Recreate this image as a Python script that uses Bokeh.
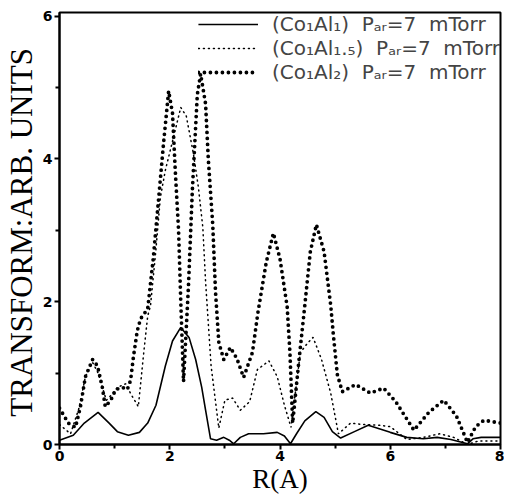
from bokeh.plotting import figure
from bokeh.models import Range1d, FixedTicker, Legend, LegendItem
from bokeh.embed import file_html
from bokeh.resources import INLINE

# (Co1Al1) solid
r1 = [0.0, 0.25, 0.45, 0.7, 0.9, 1.05, 1.25, 1.45, 1.6, 1.75, 1.92, 2.05, 2.2, 2.35, 2.47, 2.58,
      2.65, 2.74, 2.85, 2.98, 3.08, 3.16, 3.28, 3.43, 3.7, 3.95, 4.08, 4.19, 4.3, 4.45, 4.65, 4.8,
      4.95, 5.1, 5.35, 5.6, 5.8, 6.0, 6.3, 6.6, 6.85, 7.1, 7.4, 7.5, 7.65, 8.0]
y1 = [0.06, 0.13, 0.3, 0.45, 0.3, 0.18, 0.13, 0.17, 0.3, 0.55, 1.1, 1.45, 1.64, 1.5, 1.19, 0.8,
      0.48, 0.08, 0.06, 0.1, 0.06, 0.01, 0.1, 0.15, 0.15, 0.17, 0.12, 0.01, 0.15, 0.33, 0.46, 0.38,
      0.18, 0.09, 0.18, 0.27, 0.22, 0.17, 0.1, 0.08, 0.1, 0.07, 0.01, 0.08, 0.1, 0.1]

# (Co1Al1.5) fine dotted
r15 = [0.0, 0.2, 0.35, 0.47, 0.6, 0.7, 0.85, 0.95, 1.05, 1.2, 1.3, 1.43, 1.53, 1.6, 1.65, 1.74,
       1.83, 1.92, 2.07, 2.2, 2.3, 2.43, 2.52, 2.6, 2.65, 2.75, 2.89, 3.0, 3.14, 3.28, 3.45, 3.59,
       3.8, 3.95, 4.08, 4.2, 4.37, 4.5, 4.6, 4.75, 4.92, 5.06, 5.28, 5.5, 5.8, 6.0, 6.3, 6.6, 6.9,
       7.15, 7.4, 7.6, 8.0]
y15 = [0.28, 0.15, 0.5, 0.95, 1.15, 1.0, 0.62, 0.7, 0.8, 0.85, 0.7, 0.53, 1.3, 1.8, 1.94, 2.65,
       3.46, 3.84, 4.31, 4.72, 4.6, 4.07, 3.6, 3.04, 2.28, 1.1, 0.23, 0.62, 0.65, 0.48, 0.6, 1.05,
       1.17, 0.95, 0.55, 0.24, 1.29, 1.42, 1.5, 1.2, 0.72, 0.15, 0.3, 0.28, 0.27, 0.25, 0.07, 0.1,
       0.15, 0.1, 0.0, 0.05, 0.05]

# (Co1Al2) coarse dotted
r2 = [0.0, 0.16, 0.29, 0.38, 0.47, 0.6, 0.69, 0.78, 0.83, 0.93, 1.02, 1.14, 1.23, 1.29, 1.34, 1.41,
      1.47, 1.6, 1.7, 1.8, 1.89, 1.98, 2.05, 2.1, 2.16, 2.2, 2.25, 2.34, 2.41, 2.5, 2.56, 2.65, 2.7,
      2.78, 2.83, 2.89, 2.98, 3.1, 3.22, 3.34, 3.5, 3.6, 3.75, 3.88, 4.0, 4.13, 4.18, 4.23, 4.34,
      4.43, 4.55, 4.66, 4.8, 4.92, 4.97, 5.04, 5.13, 5.37, 5.64, 5.88, 6.1, 6.43, 6.7, 6.97, 7.2,
      7.4, 7.55, 7.7, 8.0]
y2 = [0.51, 0.3, 0.24, 0.53, 0.95, 1.19, 1.1, 0.79, 0.53, 0.62, 0.77, 0.8, 0.77, 0.9, 1.22, 1.59,
      1.76, 1.9, 2.6, 3.46, 4.24, 4.95, 4.64, 3.84, 3.0, 2.0, 0.88, 2.23, 3.56, 4.9, 5.19, 4.77, 3.99,
      3.08, 2.14, 1.43, 1.19, 1.36, 1.2, 0.94, 1.29, 1.85, 2.55, 2.96, 2.6, 1.93, 1.29, 0.3, 1.15,
      1.8, 2.7, 3.08, 2.7, 1.95, 1.52, 0.98, 0.74, 0.84, 0.72, 0.79, 0.6, 0.2, 0.45, 0.62, 0.4,
      0.03, 0.25, 0.34, 0.3]

labels = ["(Co\u2081Al\u2081)  P\u2090\u1d63=7  mTorr",
          "(Co\u2081Al\u2081.\u2085)  P\u2090\u1d63=7  mTorr",
          "(Co\u2081Al\u2082)  P\u2090\u1d63=7  mTorr"]
x_ticks = [0, 2, 4, 6, 8]
x_minor = [1, 3, 5, 7]
y_ticks = [0, 2, 4, 6]
y_minor = [1, 3, 5]

p = figure(width=504, height=500, output_backend="svg", toolbar_location=None,
           x_range=Range1d(0, 8), y_range=Range1d(0, 6.05),
           min_border_left=56, min_border_right=4, min_border_top=12, min_border_bottom=56)
p.background_fill_color = "white"
p.border_fill_color = "white"
p.grid.visible = False
p.outline_line_color = "black"
p.outline_line_width = 2

l1 = p.line(r1, y1, line_color="black", line_width=1.6)
l15 = p.line(r15, y15, line_color="black", line_width=1.5, line_dash="1 4", line_cap="round")
l2 = p.line(r2, y2, line_color="black", line_width=3.8, line_dash="0 6", line_cap="round")

for ax in (p.xaxis[0], p.yaxis[0]):
    ax.axis_line_width = 2
    ax.major_tick_line_width = 2
    ax.minor_tick_line_width = 2
    ax.major_tick_out = 5
    ax.major_tick_in = 0
    ax.minor_tick_out = 4
    ax.minor_tick_in = 0
    ax.major_label_text_font = "DejaVu Sans"
    ax.major_label_text_font_style = "bold"
    ax.major_label_text_font_size = "14px"
    ax.axis_label_text_font = "Liberation Serif"
    ax.axis_label_text_font_style = "normal"
    ax.axis_label_text_color = "black"
    ax.major_label_text_color = "black"

p.xaxis.ticker = FixedTicker(ticks=x_ticks, minor_ticks=x_minor)
p.yaxis.ticker = FixedTicker(ticks=y_ticks, minor_ticks=y_minor)
p.xaxis.axis_label = "R(A)"
p.xaxis.axis_label_text_font_size = "27px"
p.xaxis.axis_label_standoff = 0
p.xaxis.major_label_standoff = 1
p.yaxis.axis_label = "TRANSFORM:ARB.  UNITS"
p.yaxis.axis_label_text_font_size = "31px"
p.yaxis.axis_label_standoff = 1
p.yaxis.major_label_standoff = 2
p.yaxis.major_label_orientation = 0

legend = Legend(items=[LegendItem(label=labels[0], renderers=[l1]),
                       LegendItem(label=labels[1], renderers=[l15]),
                       LegendItem(label=labels[2], renderers=[l2])],
                location="top_right", background_fill_alpha=0, border_line_alpha=0,
                label_text_font="DejaVu Sans", label_text_font_size="20px",
                label_text_line_height=0.9,
                glyph_width=60, glyph_height=16, label_standoff=14, spacing=0,
                padding=0, margin=0, label_height=16)
p.add_layout(legend)

open("out.html", "w").write(file_html(p, INLINE))
